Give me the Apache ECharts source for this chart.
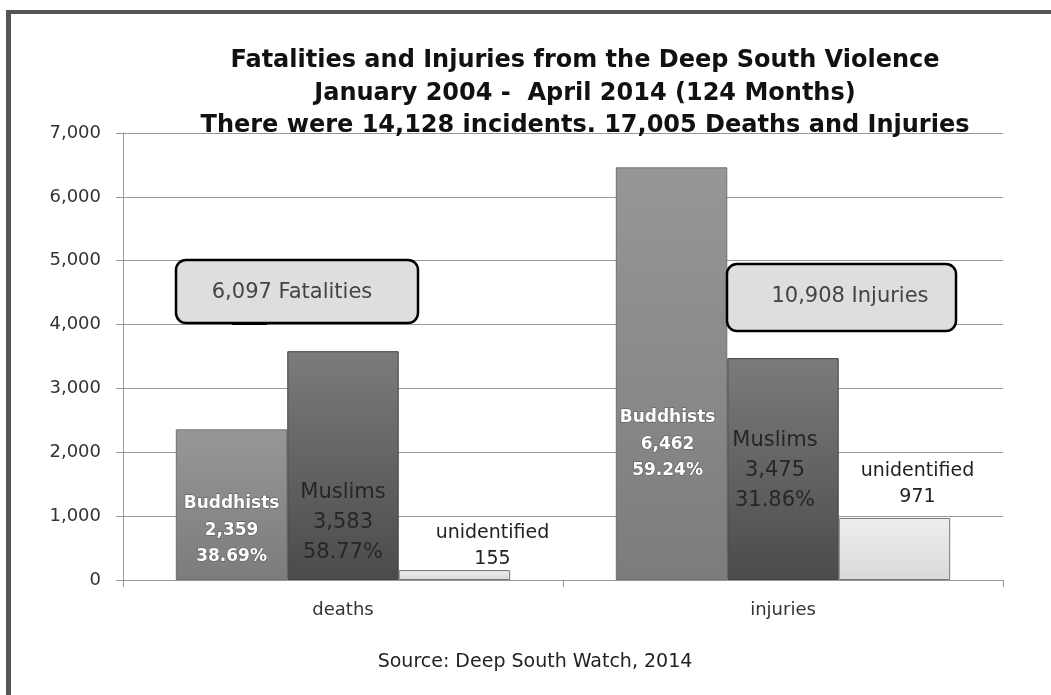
<!DOCTYPE html>
<html>
<head>
<meta charset="utf-8">
<script src="https://cdn.jsdelivr.net/npm/echarts@6/dist/echarts.min.js"></script>
<style>
html,body{margin:0;padding:0;background:#fff;}
#chart{width:1051px;height:695px;}
</style>
</head>
<body>
<div id="chart"></div>
<script>
var categories = ['deaths', 'injuries'];
var buddhists = [2359, 6462];
var muslims = [3583, 3475];
var unidentified = [155, 971];
var yTicks = [0, 1000, 2000, 3000, 4000, 5000, 6000, 7000];
var totals = ['6,097 Fatalities', '10,908 Injuries'];
var titleLines = ['Fatalities and Injuries from the Deep South Violence',
  'January 2004 -  April 2014 (124 Months)',
  'There were 14,128 incidents. 17,005 Deaths and Injuries'];
var sourceText = 'Source: Deep South Watch, 2014';

function fmt(n){ return n.toLocaleString('en-US'); }
function pct(i, v){ var t = buddhists[i] + muslims[i] + unidentified[i]; return (v / t * 100).toFixed(2) + '%'; }

var chart = echarts.init(document.getElementById('chart'));
var FONT = 'DejaVu Sans';

var budDist = [10, 96], budOff = [0, -4];
var musDist = [12, 64], musOff = [0, -8];
var unDist = [-2, 8], unOff = [38, 23];

var option = {
  backgroundColor: '#ffffff',
  animation: false,
  title: [{
    text: titleLines.join('\n'),
    left: 580, top: 40, textAlign: 'center',
    textStyle: { fontFamily: FONT, fontWeight: 'bold', fontSize: 24, lineHeight: 32.5, color: '#111' }
  }, {
    text: sourceText,
    left: 530, top: 648, textAlign: 'center',
    textStyle: { fontFamily: FONT, fontWeight: 'normal', fontSize: 19, color: '#222' }
  }],
  grid: { left: 123, right: 48, top: 133, bottom: 115 },
  xAxis: {
    type: 'category', data: categories,
    axisLine: { lineStyle: { color: '#999', width: 1 } },
    axisTick: { show: true, length: 7, lineStyle: { color: '#999' } },
    axisLabel: { margin: 21, fontFamily: FONT, fontSize: 18, color: '#333' }
  },
  yAxis: {
    type: 'value', min: yTicks[0], max: yTicks[yTicks.length - 1], interval: yTicks[1] - yTicks[0],
    axisLine: { show: true, lineStyle: { color: '#999' } },
    axisTick: { show: true, length: 7, lineStyle: { color: '#999' } },
    splitLine: { lineStyle: { color: '#999', width: 1 } },
    axisLabel: { margin: 22, fontFamily: FONT, fontSize: 18, color: '#333', formatter: function(v){ return fmt(v); } }
  },
  series: [{
    name: 'Buddhists', type: 'bar', barGap: '0%', barCategoryGap: '24%',
    itemStyle: { color: new echarts.graphic.LinearGradient(0,0,0,1,[{offset:0,color:'#979797'},{offset:1,color:'#7c7c7c'}]), borderColor: '#6f6f6f', borderWidth: 1 },
    data: buddhists.map(function(v, i){ return { value: v, label: { distance: budDist[i], offset: [budOff[i], 0] } }; }),
    label: { show: true, position: 'insideBottom', fontFamily: FONT, fontWeight: 'bold', fontSize: 17, lineHeight: 26.5, color: '#fff',
      textBorderColor: '#555', textBorderWidth: 1,
      formatter: function(p){ return 'Buddhists\n' + fmt(p.value) + '\n' + pct(p.dataIndex, p.value); } }
  }, {
    name: 'Muslims', type: 'bar',
    itemStyle: { color: new echarts.graphic.LinearGradient(0,0,0,1,[{offset:0,color:'#7b7b7b'},{offset:1,color:'#4b4b4b'}]), borderColor: '#444', borderWidth: 1 },
    data: muslims.map(function(v, i){ return { value: v, label: { distance: musDist[i], offset: [musOff[i], 0] } }; }),
    label: { show: true, position: 'insideBottom', fontFamily: FONT, fontSize: 21, lineHeight: 30, color: '#262626',
      formatter: function(p){ return 'Muslims\n' + fmt(p.value) + '\n' + pct(p.dataIndex, p.value); } }
  }, {
    name: 'unidentified', type: 'bar',
    itemStyle: { color: new echarts.graphic.LinearGradient(0,0,0,1,[{offset:0,color:'#eeeeee'},{offset:1,color:'#d9d9d9'}]), borderColor: '#777', borderWidth: 1 },
    data: unidentified.map(function(v, i){ return { value: v, label: { distance: unDist[i], offset: [unOff[i], 0] } }; }),
    label: { show: true, position: 'top', fontFamily: FONT, fontSize: 19, lineHeight: 26, color: '#222',
      formatter: function(p){ return 'unidentified\n' + fmt(p.value); } }
  }],
  graphic: [
    { type: 'rect', shape: { x: 6, y: 10, width: 5, height: 685 }, style: { fill: '#555' }, silent: true },
    { type: 'rect', shape: { x: 6, y: 10, width: 1045, height: 4 }, style: { fill: '#555' }, silent: true },
    { type: 'rect', shape: { x: 176, y: 260, width: 242, height: 63, r: 10 }, style: { fill: '#dedede', stroke: '#000', lineWidth: 2.5 }, z: 100 },
    { type: 'rect', shape: { x: 232, y: 322, width: 35, height: 3 }, style: { fill: '#000' }, z: 101 },
    { type: 'text', x: 292, y: 293, z: 102, style: { text: totals[0], font: '21px "DejaVu Sans"', fill: '#444', textAlign: 'center', textVerticalAlign: 'middle' } },
    { type: 'rect', shape: { x: 727, y: 264, width: 229, height: 67, r: 10 }, style: { fill: '#dedede', stroke: '#000', lineWidth: 2.5 }, z: 100 },
    { type: 'text', x: 850, y: 297, z: 102, style: { text: totals[1], font: '21px "DejaVu Sans"', fill: '#444', textAlign: 'center', textVerticalAlign: 'middle' } }
  ]
};
chart.setOption(option);
</script>
</body>
</html>
